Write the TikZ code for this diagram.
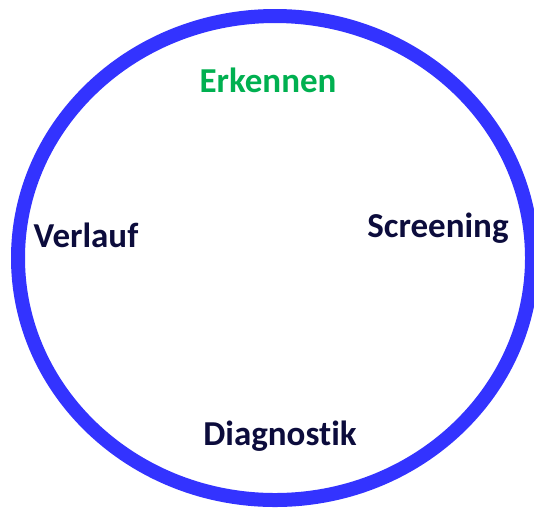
\documentclass[tikz,border=0pt]{standalone}
\usepackage{fontspec}
\setmainfont[Ligatures={NoCommon}]{Carlito}
\definecolor{ringblue}{RGB}{51,51,255}
\definecolor{labelgreen}{RGB}{0,176,80}
\definecolor{labelnavy}{RGB}{12,12,60}
\begin{document}
\begin{tikzpicture}[x=1pt,y=-1pt,
  lbl/.style={anchor=base,inner sep=0pt,font=\fontsize{35}{40}\selectfont\bfseries,text=labelnavy}]
\useasboundingbox (0,0) rectangle (534,507);
\draw[ringblue,line width=14pt] (275,258) ellipse [x radius=257,y radius=242];
\node[lbl,text=labelgreen] (erk) at (268,92) {Erkennen};
\node[lbl] (ver) at (86,247) {Verlauf};
\node[lbl] (scr) at (438,237) {Screening};
\node[lbl] (dia) at (280,445) {Diagnostik};
\end{tikzpicture}
\end{document}
